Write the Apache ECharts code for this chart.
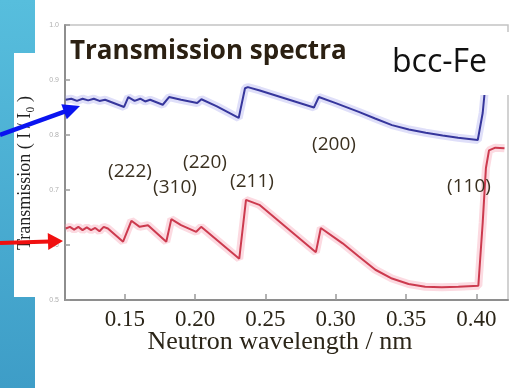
<!DOCTYPE html>
<html>
<head>
<meta charset="utf-8">
<script src="https://cdn.jsdelivr.net/npm/echarts@6/dist/echarts.min.js"></script>
<style>
html,body{margin:0;padding:0;background:#fff;}
#c{width:518px;height:388px;}
</style>
</head>
<body>
<div id="c"></div>
<script>
// ---- data ----
const blueLambda = [0.108,0.112,0.116,0.120,0.124,0.128,0.132,0.136,0.1495,0.1525,0.157,0.161,0.1645,0.168,0.177,0.1815,0.190,0.2015,0.2045,0.2155,0.231,0.2355,0.2375,0.246,0.2845,0.288,0.300,0.3164,0.328,0.340,0.352,0.364,0.376,0.387,0.401,0.4045,0.4075,0.412,0.4225];
const blueT      = [0.864,0.866,0.862,0.866,0.863,0.866,0.862,0.864,0.851,0.869,0.862,0.866,0.861,0.864,0.855,0.869,0.864,0.858,0.865,0.852,0.831,0.885,0.887,0.881,0.850,0.869,0.858,0.842,0.830,0.818,0.810,0.804,0.799,0.795,0.791,0.840,0.920,0.950,0.960];
const redLambda  = [0.108,0.111,0.114,0.117,0.120,0.123,0.126,0.129,0.132,0.135,0.138,0.1488,0.1547,0.1606,0.1665,0.1795,0.1831,0.190,0.2008,0.2043,0.2314,0.2362,0.2457,0.2859,0.2894,0.3049,0.3164,0.3282,0.340,0.3518,0.3636,0.3754,0.3872,0.4014,0.4045,0.4068,0.409,0.4135,0.420];
const redT       = [0.630,0.633,0.628,0.633,0.627,0.632,0.627,0.631,0.625,0.633,0.630,0.606,0.644,0.633,0.636,0.606,0.647,0.636,0.624,0.633,0.575,0.682,0.673,0.587,0.631,0.603,0.579,0.555,0.539,0.529,0.524,0.523,0.524,0.526,0.640,0.740,0.772,0.777,0.776];
const xTicks = [0.15,0.20,0.25,0.30,0.35,0.40];
const hklLabels = ['(222)','(310)','(220)','(211)','(200)','(110)'];
const titleText = 'Transmission spectra';
const sampleText = 'bcc-Fe';
const xName = 'Neutron wavelength / nm';
const yName = 'Transmission ( I / I\u2080 )';

// ---- layout / style ----
const hklPos = [[130,172],[175,188],[205,163],[252,182],[334,145],[469,187]];
const labelColor = '#3a3020';

function pair(xs, ys){ return xs.map((x,i)=>[x, ys[i]]); }

function arrow(x0,y0,x1,y1,color,headLen,halfW,lw){
  const dx=x1-x0, dy=y1-y0, L=Math.sqrt(dx*dx+dy*dy);
  const ux=dx/L, uy=dy/L, nx=-uy, ny=ux;
  const bx=x1-headLen*ux, by=y1-headLen*uy;
  return [
    {type:'line', z:120, shape:{x1:x0,y1:y0,x2:bx+ux*2,y2:by+uy*2}, style:{stroke:color,lineWidth:lw}},
    {type:'polygon', z:120, shape:{points:[[x1,y1],[bx+halfW*nx,by+halfW*ny],[bx-halfW*nx,by-halfW*ny]]}, style:{fill:color}}
  ];
}

const chart = echarts.init(document.getElementById('c'), null, {renderer:'canvas'});

const graphics = [
  {type:'rect', z:110, shape:{x:0,y:0,width:35,height:388},
    style:{fill:new echarts.graphic.LinearGradient(0,0,0,1,[{offset:0,color:'#57bedd'},{offset:1,color:'#3e9dc7'}])}},
  {type:'rect', z:111, shape:{x:14,y:53,width:21,height:244}, style:{fill:'#ffffff'}},
  {type:'text', z:112, x:25, y:173, rotation:Math.PI/2,
    style:{text:yName, fill:'#222', font:'18px "Liberation Serif"', textAlign:'center', textVerticalAlign:'middle'}},
  {type:'text', z:112, x:70, y:52,
    style:{text:titleText, fill:'#2b2012', font:'bold 26px "Open Sans"', textAlign:'left', textVerticalAlign:'middle'}},
  {type:'rect', z:110, shape:{x:370,y:32,width:148,height:63}, style:{fill:'#ffffff'}},
  {type:'text', z:112, x:392, y:63,
    style:{text:sampleText, fill:'#111', font:'32px "Open Sans"', textAlign:'left', textVerticalAlign:'middle'}},
  {type:'text', z:112, x:280, y:342,
    style:{text:xName, fill:'#2b2518', font:'26px "Liberation Serif"', textAlign:'center', textVerticalAlign:'middle'}}
];
hklLabels.forEach((t,i)=>{
  graphics.push({type:'text', z:112, x:hklPos[i][0], y:hklPos[i][1],
    style:{text:t, fill:labelColor, font:'19px "Open Sans"', textAlign:'center', textVerticalAlign:'middle'}});
});
graphics.push(...arrow(0,135,80,106,'#0a14f0',17,8,4.5));
graphics.push(...arrow(0,243,63,241,'#f01010',15,8.5,4));

const option = {
  backgroundColor:'#ffffff',
  animation:false,
  grid:{left:65,right:10,top:25,bottom:88,show:true,borderColor:'#c4c4c4',borderWidth:1.5,containLabel:false,outerBoundsMode:'none'},
  xAxis:{
    type:'value', min:0.1075, max:0.4225,
    splitLine:{show:false},
    axisLine:{show:true,onZero:false,lineStyle:{color:'#8e8e8e',width:2}},
    axisTick:{show:true,inside:true,length:6,customValues:xTicks,lineStyle:{color:'#9a9a9a',width:1.5}},
    axisLabel:{show:true,customValues:xTicks,margin:8,color:'#2b2518',fontFamily:'Liberation Serif',fontSize:23,
      formatter:v=>v.toFixed(2)}
  },
  yAxis:{
    type:'value', min:0.5, max:1.0, interval:0.1,
    splitLine:{show:false},
    axisLine:{show:true,onZero:false,lineStyle:{color:'#8e8e8e',width:2}},
    axisTick:{show:true,inside:true,length:5,lineStyle:{color:'#9a9a9a',width:1.5}},
    axisLabel:{show:true,margin:6,color:'#b0b0b0',fontSize:7,formatter:v=>v.toFixed(1)}
  },
  series:[
    {type:'line', data:pair(blueLambda,blueT), showSymbol:false, z:2, silent:true,
      lineStyle:{color:'rgba(150,150,235,0.30)',width:8}},
    {type:'line', data:pair(redLambda,redT), showSymbol:false, z:2, silent:true,
      lineStyle:{color:'rgba(245,150,170,0.35)',width:8}},
    {type:'line', data:pair(blueLambda,blueT), showSymbol:false, z:3,
      lineStyle:{color:'#36369c',width:2}},
    {type:'line', data:pair(redLambda,redT), showSymbol:false, z:3,
      lineStyle:{color:'#cc3a4e',width:2}}
  ],
  graphic:{elements:graphics}
};
chart.setOption(option);
</script>
</body>
</html>
